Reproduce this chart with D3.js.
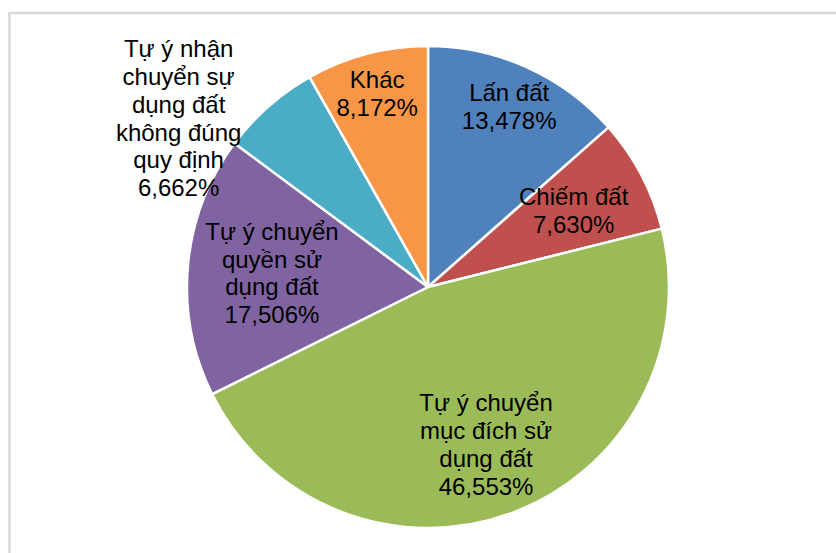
<!DOCTYPE html>
<html>
<head>
<meta charset="utf-8">
<script src="https://cdn.jsdelivr.net/npm/d3@7"></script>
<style>
  html, body { margin: 0; padding: 0; background: #fff; }
  svg { display: block; }
</style>
</head>
<body>
<div id="piechart"></div>
<script>
// Data
const categories = [
    "Lấn đất",
    "Chiếm đất",
    "Tự ý chuyển mục đích sử dụng đất",
    "Tự ý chuyển quyền sử dụng đất",
    "Tự ý nhận chuyển sự dụng đất không đúng quy định",
    "Khác"
];
const values = [13.478, 7.630, 46.553, 17.506, 6.662, 8.172];
const valueLabels = ["13,478%", "7,630%", "46,553%", "17,506%", "6,662%", "8,172%"];
// label text as it wraps in the chart
const labelLines = [
    ["Lấn đất"],
    ["Chiếm đất"],
    ["Tự ý chuyển", "mục đích sử", "dụng đất"],
    ["Tự ý chuyển", "quyền sử", "dụng đất"],
    ["Tự ý nhận", "chuyển sự", "dụng đất", "không đúng", "quy định"],
    ["Khác"]
];

const colors = ["#4F81BD", "#C0504D", "#9BBB59", "#8064A2", "#4BACC6", "#F79646"];

// label placement (fraction of radius along the slice middle + nudge)
const labelPlace = [
    { r: 0.82, dx: 0, dy: 0 },
    { r: 0.683, dx: 0, dy: 0 },
    { r: 0.697, dx: 0, dy: 0 },
    { r: 0.65, dx: 0, dy: 0 },
    { r: 1.0, dx: -90, dy: 12 },
    { r: 0.83, dx: 0, dy: 0 }
];

const width = 836,
    height = 553,
    cx = 428,
    cy = 287,
    radius = 241,
    lineHeight = 27.7;

const svg = d3.select("#piechart")
    .append("svg")
    .attr("width", width)
    .attr("height", height);

// chart border
svg.append("rect")
    .attr("x", 9.5)
    .attr("y", 13)
    .attr("width", 900)
    .attr("height", 600)
    .attr("fill", "none")
    .attr("stroke", "#d9d9d9")
    .attr("stroke-width", 2.5);

const g = svg.append("g")
    .attr("transform", "translate(" + cx + "," + cy + ")");

const pie = d3.pie()
    .sort(null)
    .value(d => d);

const arcs = pie(values);

const arc = d3.arc()
    .innerRadius(0)
    .outerRadius(radius);

g.selectAll("path.slice")
    .data(arcs)
    .enter()
    .append("path")
    .attr("class", "slice")
    .attr("d", arc)
    .attr("fill", (d, i) => colors[i])
    .attr("stroke", "#fff")
    .attr("stroke-width", 2.5)
    .attr("stroke-linejoin", "round");

// Labels
arcs.forEach(function(d, i) {
    const p = labelPlace[i];
    const mid = (d.startAngle + d.endAngle) / 2;
    const lx = Math.sin(mid) * radius * p.r + p.dx;
    const ly = -Math.cos(mid) * radius * p.r + p.dy;
    const lines = labelLines[i].concat([valueLabels[i]]);
    const top = ly - (lines.length - 1) / 2 * lineHeight;

    const t = g.append("text")
        .attr("text-anchor", "middle")
        .attr("font-family", "'Liberation Sans', Arial, sans-serif")
        .attr("font-size", 24)
        .attr("fill", "#000");

    lines.forEach(function(s, j) {
        t.append("tspan")
            .attr("x", lx)
            .attr("y", top + j * lineHeight)
            .attr("dy", "0.35em")
            .text(s);
    });
});
</script>
</body>
</html>
